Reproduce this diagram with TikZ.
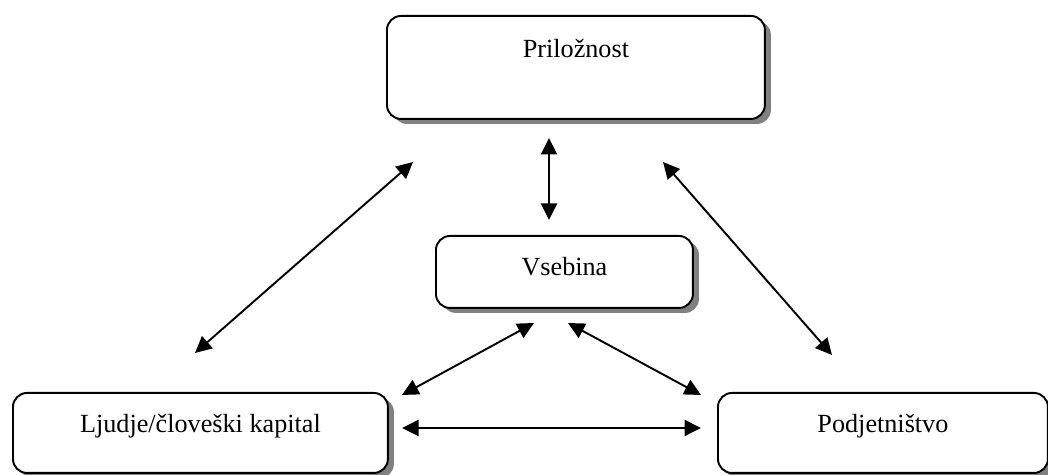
\documentclass[tikz,border=0pt]{standalone}
\usepackage{fontspec}
\setmainfont{Liberation Serif}
\usetikzlibrary{arrows.meta,shadows}

\begin{document}
\begin{tikzpicture}[x=0.02cm,y=-0.02cm,
    box/.style={draw,line width=1.1pt,rounded corners=0.28cm,inner sep=0pt,anchor=north west,fill=white,
      font=\fontsize{14.9}{17}\selectfont,
      drop shadow={shadow xshift=0.12cm,shadow yshift=-0.1cm,fill=gray,opacity=1}},
    arr/.style={{Triangle[length=0.33cm,width=0.32cm]}-{Triangle[length=0.33cm,width=0.32cm]},line width=1.1pt}]
    \useasboundingbox(0,0)rectangle(1048,475);
    \node[box,minimum width=7.56cm,text height=0.84cm,text depth=1.22cm](pr)at(386,15){Priložnost};
    \node[box,minimum width=5.14cm,text height=0.8cm,text depth=0.64cm](vs)at(435,235){Vsebina};
    \node[box,minimum width=7.5cm,text height=0.8cm,text depth=0.8cm](lj)at(12,392){Ljudje/človeški kapital};
    \node[box,minimum width=6.6cm,text height=0.8cm,text depth=0.8cm](pd)at(717,392){Podjetništvo};
    % free ends of the arrows
    \coordinate(prv)at(549,138); \coordinate(vsp)at(549,220);
    \coordinate(prl)at(413,162); \coordinate(ljp)at(195,353);
    \coordinate(prr)at(663,162); \coordinate(pdp)at(832,355);
    \coordinate(vsl)at(534,323); \coordinate(ljv)at(402,395);
    \coordinate(vsr)at(568,323); \coordinate(pdv)at(701,395);
    \coordinate(ljr)at(402,428); \coordinate(pdl)at(701,428);
    \draw[arr](prv)--(vsp);
    \draw[arr](prl)--(ljp);
    \draw[arr](prr)--(pdp);
    \draw[arr](vsl)--(ljv);
    \draw[arr](vsr)--(pdv);
    \draw[arr](ljr)--(pdl);
\end{tikzpicture}
\end{document}
